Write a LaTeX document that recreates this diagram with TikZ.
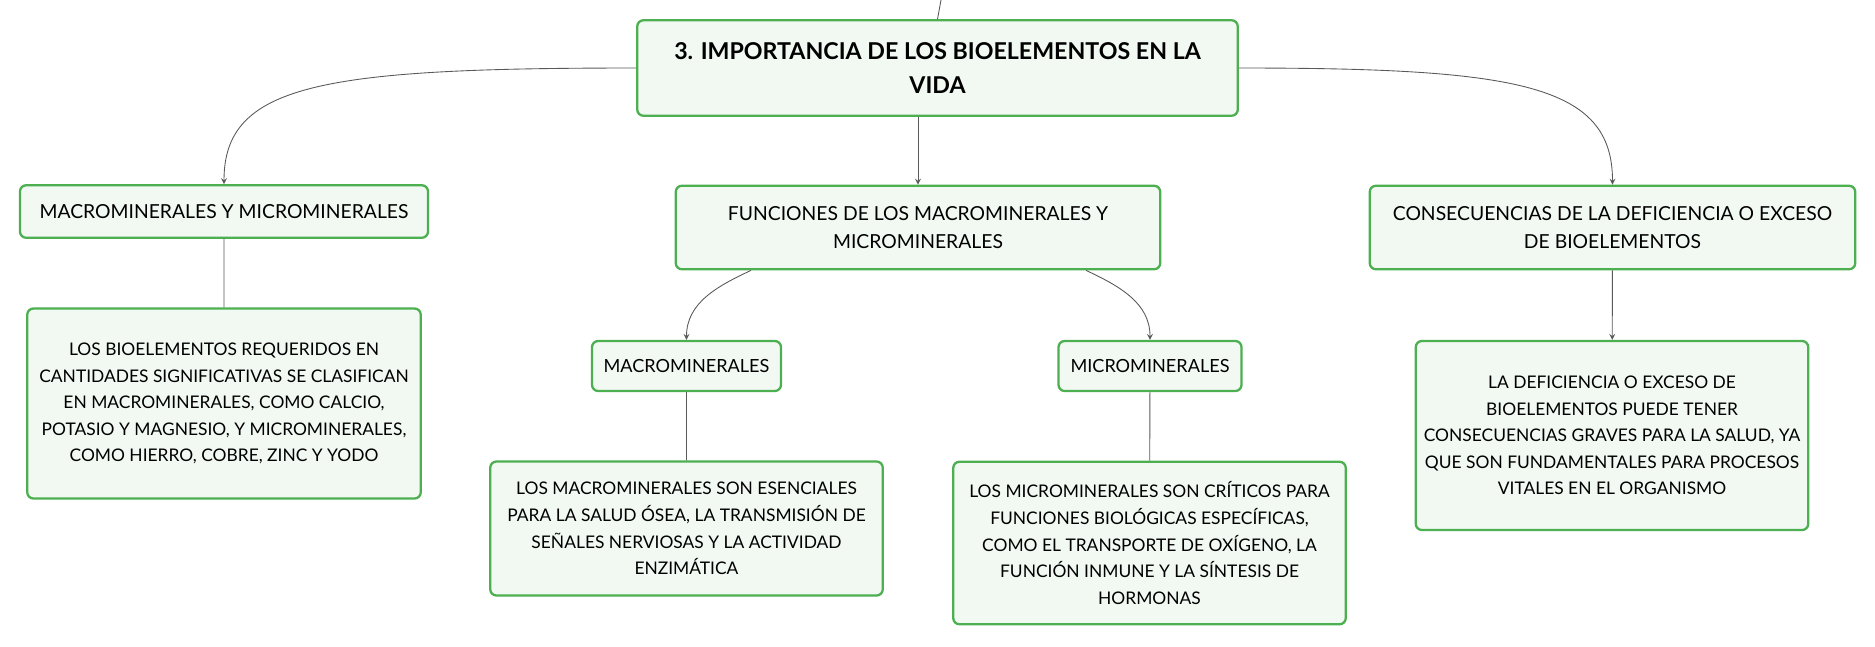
\documentclass[tikz,border=0pt]{standalone}
\usepackage{fontspec}
\setmainfont{Lato}
\definecolor{boxgreen}{RGB}{76,175,80}
\definecolor{boxfill}{RGB}{242,249,243}
\begin{document}
\begin{tikzpicture}\tikzstyle{box}=[rectangle,rounded corners=3.5pt,draw=boxgreen,line width=1.3pt,fill=boxfill,align=center,inner sep=0pt,font=\fontsize{9.9}{15.1}\selectfont]
\tikzstyle{link}=[draw=black!65,line width=0.5pt,->,>=stealth]
\useasboundingbox (0,0) rectangle (37.5,-12.92);
\node[box,minimum width=12.01cm,minimum height=1.91cm,font=\bfseries\fontsize{13.2}{19}\selectfont] at (18.75,-1.36) (tit) {3. IMPORTANCIA DE LOS BIOELEMENTOS EN LA\\VIDA};
\node[box,minimum width=8.16cm,minimum height=1.05cm,font=\fontsize{11}{15.6}\selectfont] at (4.48,-4.23) (mm) {MACROMINERALES Y MICROMINERALES};
\node[box,minimum width=9.69cm,minimum height=1.67cm,font=\fontsize{11}{15.6}\selectfont] at (18.36,-4.55) (fun) {FUNCIONES DE LOS MACROMINERALES Y\\MICROMINERALES};
\node[box,minimum width=9.71cm,minimum height=1.67cm,font=\fontsize{11}{15.6}\selectfont] at (32.25,-4.55) (cons) {CONSECUENCIAS DE LA DEFICIENCIA O EXCESO\\DE BIOELEMENTOS};
\node[box,minimum width=7.87cm,minimum height=3.80cm] at (4.48,-8.07) (mmd) {LOS BIOELEMENTOS REQUERIDOS EN\\CANTIDADES SIGNIFICATIVAS SE CLASIFICAN\\EN MACROMINERALES, COMO CALCIO,\\POTASIO Y MAGNESIO, Y MICROMINERALES,\\COMO HIERRO, COBRE, ZINC Y YODO};
\node[box,minimum width=3.78cm,minimum height=1.0cm,font=\fontsize{10.3}{15.1}\selectfont] at (13.73,-7.32) (macro) {MACROMINERALES};
\node[box,minimum width=3.66cm,minimum height=1.0cm,font=\fontsize{10.3}{15.1}\selectfont] at (23.0,-7.32) (micro) {MICROMINERALES};
\node[box,minimum width=7.85cm,minimum height=2.68cm] at (13.73,-10.57) (macrod) {LOS MACROMINERALES SON ESENCIALES\\PARA LA SALUD ÓSEA, LA TRANSMISIÓN DE\\SEÑALES NERVIOSAS Y LA ACTIVIDAD\\ENZIMÁTICA};
\node[box,minimum width=7.85cm,minimum height=3.25cm] at (22.99,-10.86) (microd) {LOS MICROMINERALES SON CRÍTICOS PARA\\FUNCIONES BIOLÓGICAS ESPECÍFICAS,\\COMO EL TRANSPORTE DE OXÍGENO, LA\\FUNCIÓN INMUNE Y LA SÍNTESIS DE\\HORMONAS};
\node[box,minimum width=7.85cm,minimum height=3.78cm] at (32.24,-8.71) (consd) {LA DEFICIENCIA O EXCESO DE\\BIOELEMENTOS PUEDE TENER\\CONSECUENCIAS GRAVES PARA LA SALUD, YA\\QUE SON FUNDAMENTALES PARA PROCESOS\\VITALES EN EL ORGANISMO};
\coordinate (up) at (18.82,0);
\draw[link,-] (up) -- (tit.north);
\draw[link] (tit.west) .. controls +(-6.3,0) and +(0,2) .. (mm.north);
\draw[link] (tit.east) .. controls +(5.6,0) and +(0,2) .. (cons.north);
\draw[link] (tit.south -| fun.north) -- (fun.north);
\draw[link] ([xshift=-3.34cm]fun.south) to[out=205,in=90] (macro.north);
\draw[link] ([xshift=3.36cm]fun.south) to[out=-25,in=90] (micro.north);
\draw[link] (mm) -- (mmd)
     (macro) -- (macrod)
     (micro) -- (microd)
     (cons) -- (consd);
\end{tikzpicture}
\end{document}
